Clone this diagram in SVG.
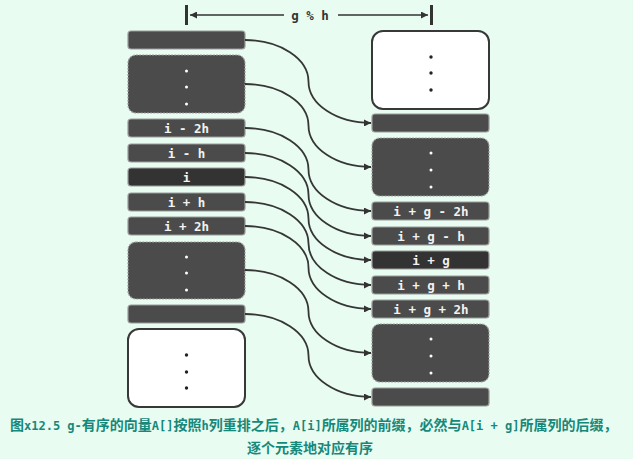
<svg xmlns="http://www.w3.org/2000/svg" width="633" height="459" viewBox="0 0 633 459">
<style>
.bar{fill:#4b4b4b;stroke:#9c9c9c;stroke-width:1.2}
.cur{fill:#333333;stroke:#9c9c9c;stroke-width:1.2}
.dots{fill:#4b4b4b;stroke:#a0a0a0;stroke-width:1.2;stroke-dasharray:2 1.2}
.white{fill:#ffffff;stroke:#383838;stroke-width:2}
.lbl{font-family:"DejaVu Sans Mono","Liberation Mono",monospace;font-weight:bold;font-size:12.5px;fill:#f2f2f2;text-anchor:middle}
.wd{fill:#ffffff}
.bd{fill:#222222}
.conn path{fill:none;stroke:#363636;stroke-width:1.8}
.cap{font-family:"Noto Sans CJK SC","DejaVu Sans Mono",sans-serif;font-weight:bold;font-size:14px;fill:#16887a}
.lat{font-family:"DejaVu Sans Mono",monospace;font-size:12px}
</style>
<defs>
<marker id="arr" viewBox="0 0 10 10" refX="10" refY="5" markerWidth="7" markerHeight="7" markerUnits="userSpaceOnUse" orient="auto">
<path d="M0,0 L10,5 L0,10 z" fill="#333333"/>
</marker>
</defs>
<rect width="633" height="459" fill="#e8fcf1"/>

<g id="dimension">
<rect x="185" y="5" width="3" height="20" fill="#333333"/>
<rect x="430" y="5" width="3" height="20" fill="#333333"/>
<path d="M284,15 L190,15" stroke="#333333" stroke-width="1.3" fill="none" marker-end="url(#arr)"/>
<path d="M338,15 L428,15" stroke="#333333" stroke-width="1.3" fill="none" marker-end="url(#arr)"/>
<text x="310" y="20" font-family="DejaVu Sans Mono,monospace" font-weight="bold" font-size="12.5" fill="#333333" text-anchor="middle">g % h</text>
</g>

<g id="L1"><rect class="bar" x="128" y="31" width="117" height="18" rx="3"/></g>
<g id="L2"><rect class="dots" x="128" y="55" width="117" height="58" rx="8"/>
<circle class="wd" cx="186.5" cy="71" r="1.5"/><circle class="wd" cx="186.5" cy="87" r="1.5"/><circle class="wd" cx="186.5" cy="104" r="1.5"/></g>
<g id="L3"><rect class="bar" x="128" y="119" width="117" height="18" rx="3"/><text class="lbl" x="186.5" y="132.5">i - 2h</text></g>
<g id="L4"><rect class="bar" x="128" y="144" width="117" height="18" rx="3"/><text class="lbl" x="186.5" y="157.5">i - h</text></g>
<g id="L5"><rect class="cur" x="128" y="168" width="117" height="18" rx="3"/><text class="lbl" x="186.5" y="181.5">i</text></g>
<g id="L6"><rect class="bar" x="128" y="193" width="117" height="18" rx="3"/><text class="lbl" x="186.5" y="206.5">i + h</text></g>
<g id="L7"><rect class="bar" x="128" y="217" width="117" height="18" rx="3"/><text class="lbl" x="186.5" y="230.5">i + 2h</text></g>
<g id="L8"><rect class="dots" x="128" y="242" width="117" height="57" rx="8"/>
<circle class="wd" cx="186.5" cy="257" r="1.5"/><circle class="wd" cx="186.5" cy="273" r="1.5"/><circle class="wd" cx="186.5" cy="290" r="1.5"/></g>
<g id="L9"><rect class="bar" x="128" y="305" width="117" height="18" rx="3"/></g>
<g id="L10"><rect class="white" x="128" y="329" width="117" height="78" rx="11"/>
<circle class="bd" cx="186.5" cy="355" r="1.7"/><circle class="bd" cx="186.5" cy="372" r="1.7"/><circle class="bd" cx="186.5" cy="388" r="1.7"/></g>

<g id="R1"><rect class="white" x="372" y="31" width="117" height="78" rx="11"/>
<circle class="bd" cx="431" cy="57" r="1.7"/><circle class="bd" cx="431" cy="73" r="1.7"/><circle class="bd" cx="431" cy="90" r="1.7"/></g>
<g id="R2"><rect class="bar" x="372" y="114" width="117" height="18" rx="3"/></g>
<g id="R3"><rect class="dots" x="372" y="138" width="117" height="58" rx="8"/>
<circle class="wd" cx="431" cy="153" r="1.5"/><circle class="wd" cx="431" cy="170" r="1.5"/><circle class="wd" cx="431" cy="187" r="1.5"/></g>
<g id="R4"><rect class="bar" x="372" y="202" width="117" height="18" rx="3"/><text class="lbl" x="431" y="215.5">i + g - 2h</text></g>
<g id="R5"><rect class="bar" x="372" y="227" width="117" height="18" rx="3"/><text class="lbl" x="431" y="240.5">i + g - h</text></g>
<g id="R6"><rect class="cur" x="372" y="251" width="117" height="18" rx="3"/><text class="lbl" x="431" y="264.5">i + g</text></g>
<g id="R7"><rect class="bar" x="372" y="276" width="117" height="18" rx="3"/><text class="lbl" x="431" y="289.5">i + g + h</text></g>
<g id="R8"><rect class="bar" x="372" y="300" width="117" height="18" rx="3"/><text class="lbl" x="431" y="313.5">i + g + 2h</text></g>
<g id="R9"><rect class="dots" x="372" y="324" width="117" height="58" rx="8"/>
<circle class="wd" cx="431" cy="339" r="1.5"/><circle class="wd" cx="431" cy="356" r="1.5"/><circle class="wd" cx="431" cy="373" r="1.5"/></g>
<g id="R10"><rect class="bar" x="372" y="388" width="117" height="18" rx="3"/></g>

<g id="connectors" class="conn">
<path marker-end="url(#arr)" d="M245,40 A63.5,41.5 0 0 1 308.5,81.5 A62.5,41.5 0 0 0 371,123"/>
<path marker-end="url(#arr)" d="M245,84 A63.5,41.5 0 0 1 308.5,125.5 A62.5,41.5 0 0 0 371,167"/>
<path marker-end="url(#arr)" d="M245,128 A63.5,41.5 0 0 1 308.5,169.5 A62.5,41.5 0 0 0 371,211"/>
<path marker-end="url(#arr)" d="M245,153 A63.5,41.5 0 0 1 308.5,194.5 A62.5,41.5 0 0 0 371,236"/>
<path marker-end="url(#arr)" d="M245,177 A63.5,41.5 0 0 1 308.5,218.5 A62.5,41.5 0 0 0 371,260"/>
<path marker-end="url(#arr)" d="M245,202 A63.5,41.5 0 0 1 308.5,243.5 A62.5,41.5 0 0 0 371,285"/>
<path marker-end="url(#arr)" d="M245,226 A63.5,41.5 0 0 1 308.5,267.5 A62.5,41.5 0 0 0 371,309"/>
<path marker-end="url(#arr)" d="M245,270 A63.5,41.5 0 0 1 308.5,311.5 A62.5,41.5 0 0 0 371,353"/>
<path marker-end="url(#arr)" d="M245,314 A63.5,41.5 0 0 1 308.5,355.5 A62.5,41.5 0 0 0 371,397"/>
</g>

<g id="caption">
<text class="cap" x="10" y="430">图<tspan class="lat">x12.5 g-</tspan>有序的向量<tspan class="lat">A[]</tspan>按照<tspan class="lat">h</tspan>列重排之后，<tspan class="lat">A[i]</tspan>所属列的前缀，必然与<tspan class="lat">A[i + g]</tspan>所属列的后缀，</text>
<text class="cap" x="310" y="453" text-anchor="middle">逐个元素地对应有序</text>
</g>
</svg>
